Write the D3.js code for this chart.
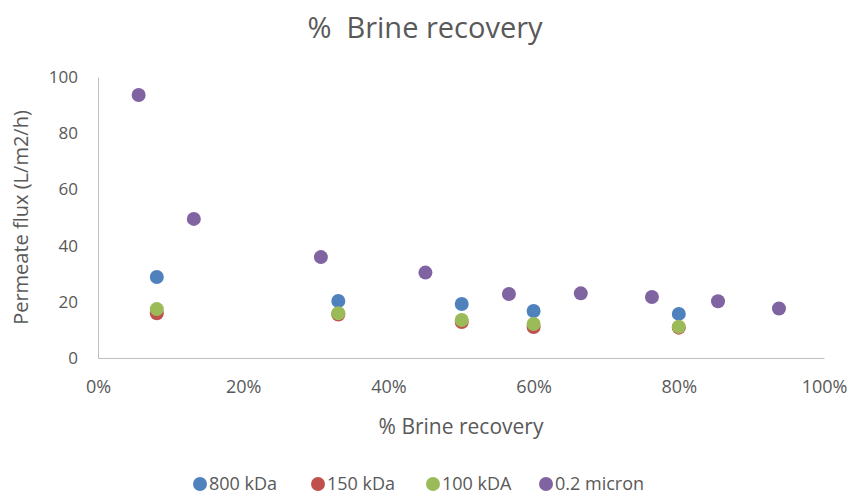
<!DOCTYPE html>
<html>
<head>
<meta charset="utf-8">
<script src="https://cdn.jsdelivr.net/npm/d3@7"></script>
<style>
  body { margin: 0; background: #fff; }
  text { font-family: "Open Sans", "Noto Sans", sans-serif; fill: #595959; }
</style>
</head>
<body>
<svg id="chart" width="851" height="499"></svg>
<script>
// series names and colours
var seriesNames = ["800 kDa", "150 kDa", "100 kDA", "0.2 micron"];
var seriesColors = ["#4F81BD", "#C0504D", "#9BBB59", "#8064A2"];

// brine recovery (fraction) and flux values
var recovery800 = [0.081, 0.331, 0.501, 0.60, 0.80];
var flux800 = [28.8, 20.3, 19.2, 16.7, 15.7];
var recovery150 = [0.081, 0.331, 0.501, 0.60, 0.80];
var flux150 = [15.9, 15.5, 12.8, 11.0, 10.8];
var recovery100 = [0.081, 0.331, 0.501, 0.60, 0.80];
var flux100 = [17.4, 15.9, 13.5, 12.1, 11.1];
var recoveryMicron = [0.056, 0.132, 0.307, 0.451, 0.566, 0.665, 0.763, 0.854, 0.938];
var fluxMicron = [93.6, 49.5, 35.9, 30.4, 22.8, 23.0, 21.7, 20.2, 17.6];

var xTicks = [0, 0.2, 0.4, 0.6, 0.8, 1.0];
var yTicks = [0, 20, 40, 60, 80, 100];

var series = [
    { x: recovery800, y: flux800 },
    { x: recovery150, y: flux150 },
    { x: recovery100, y: flux100 },
    { x: recoveryMicron, y: fluxMicron }
];

var svg = d3.select("#chart");

var x = d3.scaleLinear().domain([0, 1]).range([98, 824]);
var y = d3.scaleLinear().domain([0, 100]).range([358, 77]);

// title (double space kept as in the original)
svg.append("text")
    .attr("x", 425).attr("y", 38)
    .attr("text-anchor", "middle")
    .style("font-size", "29px")
    .style("white-space", "pre")
    .text("%  Brine recovery");

// axes
var xAxis = svg.append("g")
    .attr("transform", "translate(0," + y(0) + ")")
    .call(d3.axisBottom(x).tickValues(xTicks).tickSize(0).tickPadding(22)
        .tickFormat(d3.format(".0%")));
xAxis.select(".domain").attr("stroke", "#bfbfbf");
xAxis.selectAll("text").style("font-size", "18px").style("fill", "#595959")
    .style("font-family", "'Open Sans', sans-serif");

var yAxis = svg.append("g")
    .attr("transform", "translate(" + x(0) + ",0)")
    .call(d3.axisLeft(y).tickValues(yTicks).tickSize(0).tickPadding(20));
yAxis.select(".domain").attr("stroke", "#bfbfbf");
yAxis.selectAll("text").style("font-size", "17px").style("fill", "#595959")
    .style("font-family", "'Open Sans', sans-serif");

// axis titles
svg.append("text")
    .attr("x", (x(0) + x(1)) / 2).attr("y", 434)
    .attr("text-anchor", "middle")
    .style("font-size", "21px")
    .text("% Brine recovery");

svg.append("text")
    .attr("transform", "translate(28," + ((y(0) + y(100)) / 2) + ") rotate(-90)")
    .attr("text-anchor", "middle")
    .style("font-size", "20px")
    .text("Permeate flux (L/m2/h)");

// points
series.forEach(function (s, i) {
    svg.append("g").selectAll("circle")
        .data(s.x.map(function (v, j) { return [v, s.y[j]]; }))
        .join("circle")
        .attr("cx", function (d) { return x(d[0]); })
        .attr("cy", function (d) { return y(d[1]); })
        .attr("r", 7)
        .attr("fill", seriesColors[i]);
});

// legend
var legendX = [200, 318, 433, 546];
var legend = svg.append("g");
seriesNames.forEach(function (name, i) {
    legend.append("circle")
        .attr("cx", legendX[i]).attr("cy", 484)
        .attr("r", 7).attr("fill", seriesColors[i]);
    legend.append("text")
        .attr("x", legendX[i] + 9).attr("y", 490)
        .style("font-size", "18px")
        .text(name);
});
</script>
</body>
</html>
